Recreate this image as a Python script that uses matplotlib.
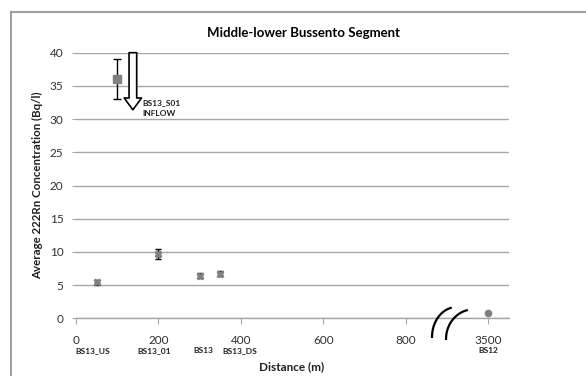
import numpy as np
import matplotlib
matplotlib.use("Agg")
import matplotlib.pyplot as plt
from matplotlib.lines import Line2D

plt.rcParams['font.family'] = ['Lato', 'DejaVu Sans']

# ---- data ----
stations = ['BS13_US', 'BS13_01', 'BS13', 'BS13_DS', 'BS12']
distance = [50, 200, 300, 350, 3500]
radon = [5.4, 9.7, 6.4, 6.7, 0.75]
radon_err = [0.4, 0.7, 0.4, 0.4, 0.0]

inflow_name = 'BS13_S01\nINFLOW'
inflow_distance = [100]
inflow_radon = [36.0]
inflow_err = [3.0]

tick_values = [0, 200, 400, 600, 800, 3500]
tick_labels = ['0', '200', '400', '600', '800', '3500']

# broken x axis: distances beyond the break are drawn at one compressed slot
BREAK_AT = 900
FAR_SLOT = 1000


def axis_pos(d):
    d = np.asarray(d, dtype=float)
    return np.where(d > BREAK_AT, FAR_SLOT, d)


fig = plt.figure(figsize=(5.86, 3.76), dpi=100)
ax = fig.add_axes([76 / 586, 1 - 318.3 / 376, (508.7 - 76) / 586, (318.3 - 52.7) / 376])

grey = '#808080'
xs = axis_pos(distance)
near = xs < FAR_SLOT
ax.errorbar(xs[near], np.array(radon)[near], yerr=np.array(radon_err)[near],
            fmt='X', ms=5, color=grey, mec=grey, ecolor='black', elinewidth=1,
            capsize=2.2, capthick=1, zorder=4)
ax.plot(xs[~near], np.array(radon)[~near], 'o', ms=4.5, color=grey, zorder=4)
ax.errorbar(axis_pos(inflow_distance), inflow_radon, yerr=inflow_err, fmt='s', ms=6,
            color=grey, ecolor='black', elinewidth=1, capsize=3, capthick=1, zorder=4)

ax.set_xlim(0, 1050)
ax.set_ylim(0, 40)
ax.set_yticks(np.arange(0, 41, 5))
ax.set_xticks(axis_pos(tick_values))
ax.set_xticklabels(tick_labels)
ax.grid(axis='y', color='#a6a6a6', lw=1)
ax.set_axisbelow(True)
for s in ['top', 'right', 'left']:
    ax.spines[s].set_visible(False)
ax.spines['bottom'].set_color('#a6a6a6')
ax.spines['bottom'].set_linewidth(1)
ax.tick_params(axis='x', length=4, color='#a6a6a6', labelsize=8.5, labelcolor='#303030', pad=8)
ax.tick_params(axis='y', length=3, color='#a6a6a6', labelsize=8.5, labelcolor='#303030', pad=6)

# station labels under the tick labels
label_x = [40, 189, 310, 398, 1000]
for name, lx in zip(stations, label_x):
    ax.text(lx, -0.12, name, transform=ax.get_xaxis_transform(), ha='center', va='center',
            fontsize=6, fontweight='bold', color='#202020')

# inflow arrow
ax.annotate('', xy=(138, 31.4), xytext=(138, 40), xycoords='data', textcoords='data',
            arrowprops=dict(arrowstyle='simple,head_length=8.5,head_width=12.5,tail_width=5.5',
                            mutation_scale=1, fc='white', ec='black', lw=1.2,
                            shrinkA=0, shrinkB=0), annotation_clip=False, zorder=5)
ax.text(162, 31.65, inflow_name, fontsize=6, fontweight='bold', color='#202020',
        ha='left', va='center', linespacing=1.75)

# axis break marks
t = np.linspace(0, 0.42 * np.pi, 30)
for (x0, y0, x1, y1) in [(864, -2.8, 924, 1.7), (898, -3.1, 965, 1.35)]:
    ax.plot(x0 + (x1 - x0) * (1 - np.cos(t)), y0 + (y1 - y0) * np.sin(t),
            color='black', lw=1.6, clip_on=False, zorder=6)

fig.text(292 / 586, 1 - 366.7 / 376, 'Distance (m)', ha='center', va='center',
         fontsize=8.5, fontweight='bold', color='#202020')
fig.text(38 / 586, 1 - 185 / 376, 'Average 222Rn Concentration (Bq/l)', rotation=90,
         ha='center', va='center', fontsize=8.3, fontweight='bold', color='#202020')
fig.text(303.5 / 586, 1 - 33 / 376, 'Middle-lower Bussento Segment', ha='center', va='center',
         fontsize=9.5, fontweight='bold', color='black')

# chart frame
fig.add_artist(Line2D([11 / 586, 11 / 586], [0, 1 - 12 / 376], color='#a0a0a0', lw=1.5,
                      transform=fig.transFigure))
fig.add_artist(Line2D([11 / 586, 1], [1 - 12 / 376, 1 - 12 / 376], color='#a0a0a0', lw=1.5,
                      transform=fig.transFigure))

fig.savefig('out.png', dpi=100)
